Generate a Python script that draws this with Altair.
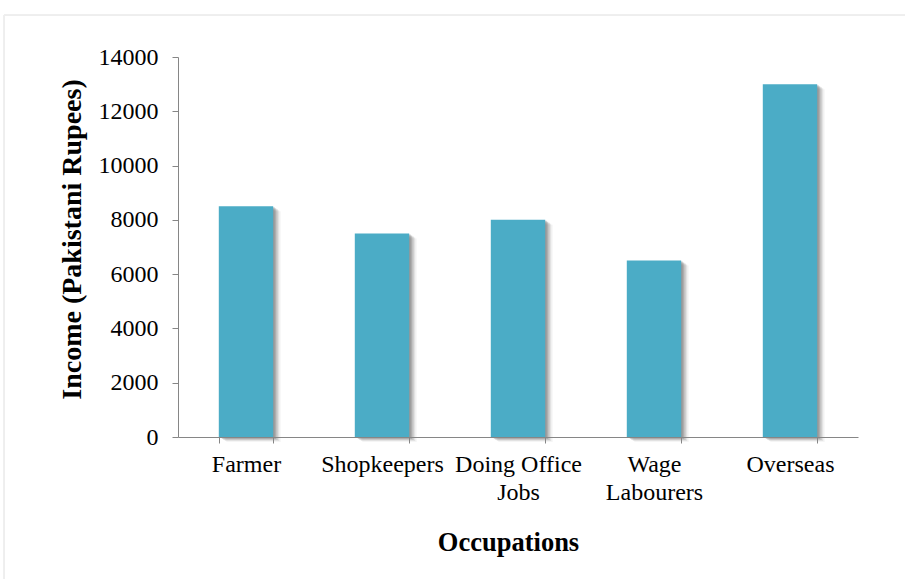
import altair as alt
import pandas as pd

categories = ["Farmer", "Shopkeepers", "Doing Office Jobs", "Wage Labourers", "Overseas"]
label_lines = [["Farmer"], ["Shopkeepers"], ["Doing Office", "Jobs"], ["Wage", "Labourers"], ["Overseas"]]
income = [8500, 7500, 8000, 6500, 13000]
y_ticks = [0, 2000, 4000, 6000, 8000, 10000, 12000, 14000]

df = pd.DataFrame({"Occupation": categories, "Income": income})

expr_parts = []
for cat, lines in zip(categories, label_lines):
    arr = "[" + ",".join("'" + l + "'" for l in lines) + "]"
    expr_parts.append(f"datum.value == '{cat}' ? {arr} : ")
label_expr = "".join(expr_parts) + "datum.value"

FONT = "Liberation Serif"

x_enc = alt.X(
    "Occupation:N",
    sort=categories,
    scale=alt.Scale(paddingInner=0.6, paddingOuter=0.3),
    axis=alt.Axis(
        title="Occupations",
        labelAngle=0,
        labelExpr=label_expr,
        labelFont=FONT,
        labelFontSize=24,
        labelColor="black",
        labelPadding=9,
        labelLineHeight=28,
        tickBand="extent",
        tickSize=6,
        tickColor="#868686",
        domainColor="#868686",
        titleFont=FONT,
        titleFontSize=26.5,
        titleFontWeight="bold",
        titleColor="black",
        titlePadding=25,
        titleX=330,
        zindex=1,
    ),
)
y_enc = alt.Y(
    "Income:Q",
    scale=alt.Scale(domain=[0, 14000]),
    axis=alt.Axis(
        title="Income (Pakistani Rupees)",
        values=y_ticks,
        format="d",
        grid=False,
        labelFont=FONT,
        labelFontSize=24,
        labelColor="black",
        labelPadding=14,
        tickSize=6,
        tickColor="#868686",
        domainColor="#868686",
        titleFont=FONT,
        titleFontSize=28,
        titleFontWeight="bold",
        titleColor="black",
        titlePadding=12,
        titleY=182,
        zindex=1,
    ),
)

base = alt.Chart(df)

frame = base.mark_rect(filled=False, stroke="#eeeeee", strokeWidth=1).encode(
    x=alt.value(-174), x2=alt.value(760), y=alt.value(-42), y2=alt.value(560)
)

shadows = []
for dx, dy, op in [(1.5, 1, 0.35), (3, 2, 0.3), (4.5, 3, 0.22), (6, 4, 0.14), (7.5, 5, 0.07)]:
    shadows.append(
        base.mark_bar(color="#6f6f6f", opacity=op, xOffset=dx, yOffset=dy).encode(
            x=x_enc, y=y_enc
        )
    )

bars = base.mark_bar(color="#4BACC6").encode(x=x_enc, y=y_enc)

chart = (
    alt.layer(frame, *shadows, bars)
    .properties(
        width=680,
        height=380,
        background="white",
        autosize=alt.AutoSizeParams(type="none"),
        padding={"left": 178, "top": 57, "right": 47, "bottom": 142},
    )
    .configure_view(strokeWidth=0, stroke="transparent")
    .configure_axis(labelFont=FONT, titleFont=FONT)
)

chart.save("out.html", embed_options={"renderer": "svg", "actions": False})
